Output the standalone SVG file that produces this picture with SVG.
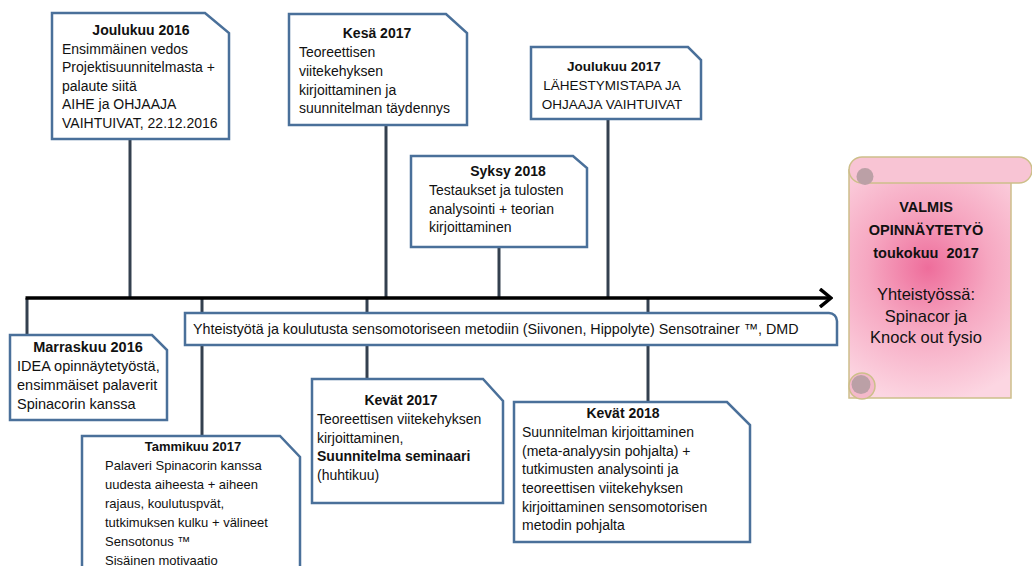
<svg xmlns="http://www.w3.org/2000/svg" width="1032" height="566" viewBox="0 0 1032 566">
<style>
text{font-family:"Liberation Sans",Arial,sans-serif;fill:#111}
.box{fill:#fff;stroke:#4a709a;stroke-width:2.5}
.conn{stroke:#34404f;stroke-width:3;fill:none}
.b{font-weight:bold}
.c{text-anchor:middle}
.s13{font-size:13px}
.s135{font-size:13.5px}
.s14{font-size:14px}
.s145{font-size:14.5px}
.scrollline{stroke:#cdbf8a;stroke-width:1.5}
</style>
<defs>
<radialGradient id="pink" gradientUnits="userSpaceOnUse" cx="928" cy="268" r="135">
<stop offset="0" stop-color="#ee6d9b"/>
<stop offset="0.45" stop-color="#f6a7c1"/>
<stop offset="1" stop-color="#fcd6e2"/>
</radialGradient>
<marker id="arrow" markerWidth="14" markerHeight="20" refX="12" refY="10" orient="auto" markerUnits="userSpaceOnUse">
<path d="M1,1 L12,10 L1,19" fill="none" stroke="#000" stroke-width="3.5"/>
</marker>
</defs>

<g id="connectors">
<line class="conn" x1="130" y1="139" x2="130" y2="298"/>
<line class="conn" x1="386" y1="125" x2="386" y2="298"/>
<line class="conn" x1="608" y1="119" x2="608" y2="298"/>
<line class="conn" x1="499" y1="247" x2="499" y2="298"/>
<line class="conn" x1="27" y1="298" x2="27" y2="335"/>
<line class="conn" x1="202" y1="298" x2="202" y2="436"/>
<line class="conn" x1="367" y1="298" x2="367" y2="379"/>
<line class="conn" x1="648" y1="298" x2="648" y2="402"/>
<line x1="25.5" y1="298" x2="831" y2="298" stroke="#000" stroke-width="3.5" marker-end="url(#arrow)"/>
</g>

<g id="banner">
<path class="box" d="M185,313 H829 A8,8 0 0 1 837,321 V345 H185 Z"/>
<text x="193" y="334" style="font-size:14.3px">Yhteistyötä ja koulutusta sensomotoriseen metodiin (Siivonen, Hippolyte) Sensotrainer ™, DMD</text>
</g>

<g id="joulukuu2016">
<path class="box" d="M52,13 H205 L229,33 V139 H52 Z"/>
<g class="s14">
<text class="b c" x="141" y="35">Joulukuu 2016</text>
<text x="62" y="53.6">Ensimmäinen vedos</text>
<text x="62" y="72.2">Projektisuunnitelmasta +</text>
<text x="62" y="90.8">palaute siitä</text>
<text x="62" y="109.4">AIHE ja OHJAAJA</text>
<text x="62" y="128">VAIHTUIVAT, 22.12.2016</text>
</g>
</g>

<g id="kesa2017">
<path class="box" d="M289,14 H446 L467,33 V125 H289 Z"/>
<g class="s14">
<text class="b c" x="377" y="38">Kesä 2017</text>
<text x="299" y="57">Teoreettisen</text>
<text x="299" y="76">viitekehyksen</text>
<text x="299" y="94.5">kirjoittaminen ja</text>
<text x="299" y="113">suunnitelman täydennys</text>
</g>
</g>

<g id="joulukuu2017">
<path class="box" d="M531,47 H688 L701,60 V119 H531 Z"/>
<g class="s135 c">
<text class="b" x="614" y="71">Joulukuu 2017</text>
<text x="612" y="90">LÄHESTYMISTAPA JA</text>
<text x="612" y="109">OHJAAJA VAIHTUIVAT</text>
</g>
</g>

<g id="syksy2018">
<path class="box" d="M411,156 H573 L587,168 V247 H411 Z"/>
<g class="s14">
<text class="b c" x="508" y="176">Syksy 2018</text>
<text x="429" y="195">Testaukset ja tulosten</text>
<text x="429" y="213.5">analysointi + teorian</text>
<text x="429" y="232">kirjoittaminen</text>
</g>
</g>

<g id="marraskuu2016">
<path class="box" d="M10,335 H152 L167,350 V420 H10 Z"/>
<g class="s145">
<text class="b c" x="88" y="352">Marraskuu 2016</text>
<text x="17" y="371">IDEA opinnäytetyöstä,</text>
<text x="17" y="390">ensimmäiset palaverit</text>
<text x="17" y="409">Spinacorin kanssa</text>
</g>
</g>

<g id="tammikuu2017">
<path class="box" d="M82,436 H280 L300,457 V590 H82 Z"/>
<g class="s13">
<text class="b c" x="193" y="451">Tammikuu 2017</text>
<text x="105" y="470">Palaveri Spinacorin kanssa</text>
<text x="105" y="489">uudesta aiheesta + aiheen</text>
<text x="105" y="508">rajaus, koulutuspvät,</text>
<text x="105" y="527">tutkimuksen kulku + välineet</text>
<text x="105" y="546">Sensotonus ™</text>
<text x="105" y="565">Sisäinen motivaatio</text>
</g>
</g>

<g id="kevat2017">
<path class="box" d="M312,379 H483 L503,401 V503 H312 Z"/>
<g class="s14">
<text class="b c" x="401" y="405">Kevät 2017</text>
<text x="317" y="424">Teoreettisen viitekehyksen</text>
<text x="317" y="442.5">kirjoittaminen,</text>
<text class="b" x="317" y="461">Suunnitelma seminaari</text>
<text x="317" y="480">(huhtikuu)</text>
</g>
</g>

<g id="kevat2018">
<path class="box" d="M514,402 H727 L750,425 V542 H514 Z"/>
<g class="s14">
<text class="b c" x="623" y="418">Kevät 2018</text>
<text x="522" y="437">Suunnitelman kirjoittaminen</text>
<text x="522" y="455.5">(meta-analyysin pohjalta) +</text>
<text x="522" y="474">tutkimusten analysointi ja</text>
<text x="522" y="493">teoreettisen viitekehyksen</text>
<text x="522" y="511.5">kirjoittaminen sensomotorisen</text>
<text x="522" y="530">metodin pohjalta</text>
</g>
</g>

<g id="valmis">
<rect x="849" y="170" width="162" height="228" fill="url(#pink)" class="scrollline"/>
<path d="M862,157 H1019 A13,13 0 0 1 1019,183 H862 A13,13 0 0 1 862,157 Z" fill="#f8c4d4" class="scrollline"/>
<circle cx="865" cy="176.5" r="8.5" fill="#bba0a6"/>
<circle cx="862" cy="386" r="13" fill="#f4b9ca" class="scrollline"/>
<circle cx="861" cy="384.5" r="9.5" fill="#bba0a6"/>
<g class="c">
<text class="b" x="926" y="212" style="font-size:14.5px">VALMIS</text>
<text class="b" x="926" y="235" style="font-size:14.5px">OPINNÄYTETYÖ</text>
<text class="b" x="926" y="258" style="font-size:14.5px;white-space:pre">toukokuu  2017</text>
<text x="926" y="300" style="font-size:16.5px">Yhteistyössä:</text>
<text x="926" y="322" style="font-size:16.5px">Spinacor ja</text>
<text x="926" y="343" style="font-size:16.5px">Knock out fysio</text>
</g>
</g>
</svg>
